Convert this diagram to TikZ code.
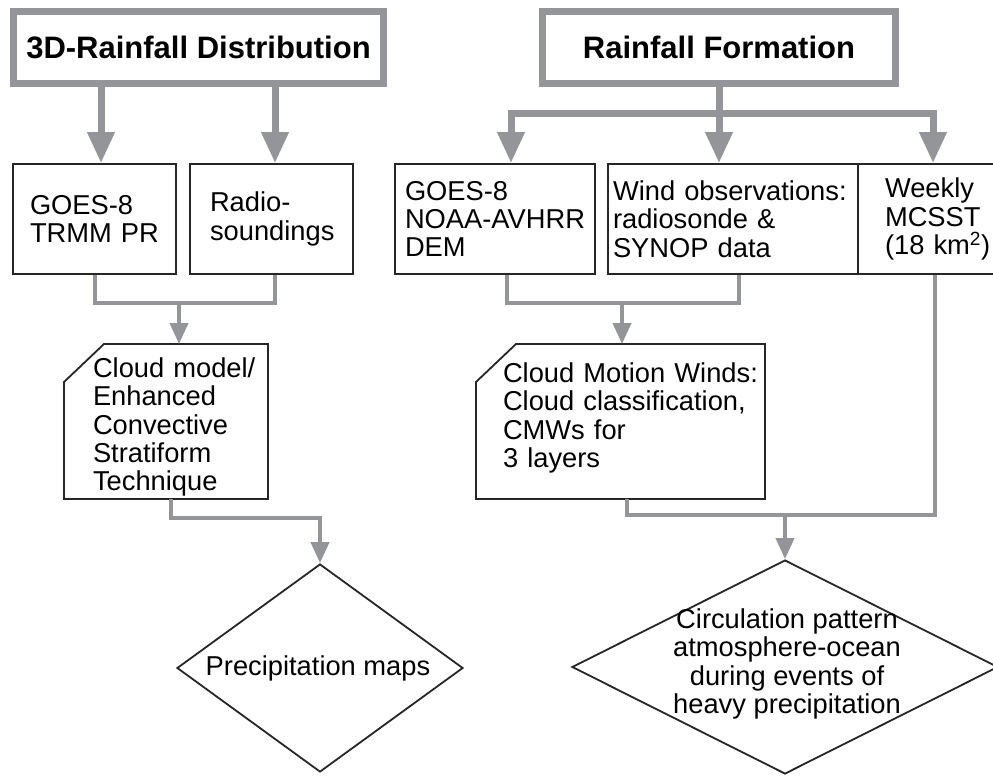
\documentclass[tikz,border=0pt]{standalone}
\usepackage{fontspec}
\setmainfont{Liberation Sans}
\usepackage{tikz}
\usetikzlibrary{arrows.meta,shapes.geometric}
\usepackage{xcolor}
\definecolor{flowgray}{RGB}{147,149,153}
\hyphenpenalty=10000
\exhyphenpenalty=10000
\tikzset{
  header/.style={draw=flowgray, line width=6.5pt, inner sep=0pt,
    font=\fontsize{31}{31}\selectfont\bfseries},
  databox/.style={draw=black!85, line width=1.8pt, align=left, inner ysep=0pt,
    minimum height=110pt, font=\fontsize{27.3}{28.3}\selectfont},
  procbox/.style={databox, draw=none, outer sep=0pt, minimum height=155pt},
  boxline/.style={draw=black!85, line width=1.8pt},
  decision/.style={boxline, diamond, inner sep=0pt},
  txt/.style={font=\fontsize{27.3}{28.3}\selectfont, align=center, inner sep=0pt},
  bigline/.style={draw=flowgray, line width=7pt},
  bigarrow/.style={bigline, -{Triangle[width=26pt,length=31pt]}},
  thinline/.style={draw=flowgray, line width=4pt},
  thinarrow/.style={thinline, -{Triangle[width=18pt,length=21pt]}}
}

\begin{document}
\begin{tikzpicture}[x=1pt, y=-1pt]
                \useasboundingbox (0,0) rectangle (993,776);
                \clip (0,0) rectangle (993,776);
                % Headers
                \node[header, minimum width=370, minimum height=72] (hdrA) at (198.5,47.5) {3D-Rainfall Distribution};
                \node[header, minimum width=353, minimum height=72] (hdrB) at (719,47.5) {Rainfall Formation};
                % Data sources
                \node[databox, minimum width=163, text width=129, inner xsep=17] (goesA) at (94.5,219) {GOES-8\\TRMM PR};
                \node[databox, minimum width=163, text width=123, inner xsep=20] (radioA) at (271.5,219) {Radio-\\soundings};
                \node[databox, minimum width=200, text width=180, inner xsep=10] (goesB) at (495,219) {GOES-8\\NOAA-AVHRR\\DEM};
                \node[databox, minimum width=250, text width=240, inner xsep=5] (windB) at (733,219) {Wind observations:\\radiosonde \&\\SYNOP data};
                \node[databox, minimum width=170, text width=116, inner xsep=27] (weekB) at (943,219) {Weekly\\MCSST\\(18 km\textsuperscript{2})};
                % Processing (cut corner top left)
                \node[procbox, minimum width=204, text width=146, inner xsep=29] (cloudA) at (166,427) {Cloud~model/\\Enhanced\\Convective\\Stratiform\\Technique};
                \draw[boxline] ([yshift=5.5pt]cloudA.south west) -- ([yshift=-32.5pt]cloudA.north west) -- ([xshift=40pt,yshift=5.5pt]cloudA.north west)
                    -- ([yshift=5.5pt]cloudA.north east) -- ([yshift=5.5pt]cloudA.south east) -- cycle;
                \node[procbox, minimum width=289, text width=235, inner xsep=27] (cmwB) at (620.5,418) {Cloud~Motion~Winds:\\Cloud~classification,\\CMWs for\\3 layers};
                \draw[boxline] ([yshift=-3.5pt]cmwB.south west) -- ([yshift=-41.5pt]cmwB.north west) -- ([xshift=40pt,yshift=-3.5pt]cmwB.north west)
                    -- ([yshift=-3.5pt]cmwB.north east) -- ([yshift=-3.5pt]cmwB.south east) -- cycle;
                % Results
                \node[decision, minimum width=286, minimum height=208] (mapsA) at (320,668) {};
                \node[txt] (mapsAtxt) at (318,668) {Precipitation maps};
                \node[decision, minimum width=426, minimum height=214] (circB) at (785,667) {};
                \node[txt] (circBtxt) at (787,664) {Circulation pattern\\atmosphere-ocean\\during events of\\heavy precipitation};
                % Header arrows, left
                \coordinate (inA1) at ([xshift=6.5pt]goesA.north);
                \coordinate (inA2) at ([xshift=3.5pt]radioA.north);
                \draw[bigarrow] (inA1 |- hdrA.south) -- (inA1);
                \draw[bigarrow] (inA2 |- hdrA.south) -- (inA2);
                % Header arrows, right
                \coordinate (barB) at ([yshift=-27pt]hdrB.south);
                \draw[bigline] (hdrB.south) -- (barB);
                \draw[bigarrow] (barB) -| ([xshift=16pt]goesB.north);
                \draw[bigarrow] (barB) -- (barB |- windB.north);
                \draw[bigarrow] (barB) -| ([xshift=-10pt]weekB.north);
                % Left branch
                \coordinate (outA2) at ([xshift=3.5pt]radioA.south);
                \coordinate (joinA) at (179,303);
                \coordinate (topA) at ([yshift=5.5pt]cloudA.north);
                \coordinate (botA) at ([xshift=5pt,yshift=5.5pt]cloudA.south);
                \draw[thinline] (goesA.south) |- (outA2 |- joinA) -- (outA2);
                \draw[thinarrow] (joinA) -- (joinA |- topA);
                \draw[thinarrow] (botA) -- ++(0,19) -| (mapsA.north);
                % Right branch
                \coordinate (outB1) at ([xshift=12pt]goesB.south);
                \coordinate (outB2) at ([xshift=5.5pt]windB.south);
                \coordinate (joinB) at (622,303);
                \coordinate (topB) at ([yshift=-3.5pt]cmwB.north);
                \draw[thinline] (outB1) |- (outB2 |- joinB) -- (outB2);
                \draw[thinarrow] (joinB) -- (joinB |- topB);
                % SST and winds merge
                \coordinate (outB3) at ([xshift=-8pt]weekB.south);
                \coordinate (outB4) at ([xshift=6pt,yshift=-3.5pt]cmwB.south);
                \coordinate (mergeB) at (785,515);
                \draw[thinline] (outB3) |- (outB4 |- mergeB) -- (outB4);
                \draw[thinarrow] (mergeB) -- (circB.north);
            \end{tikzpicture}
\end{document}
